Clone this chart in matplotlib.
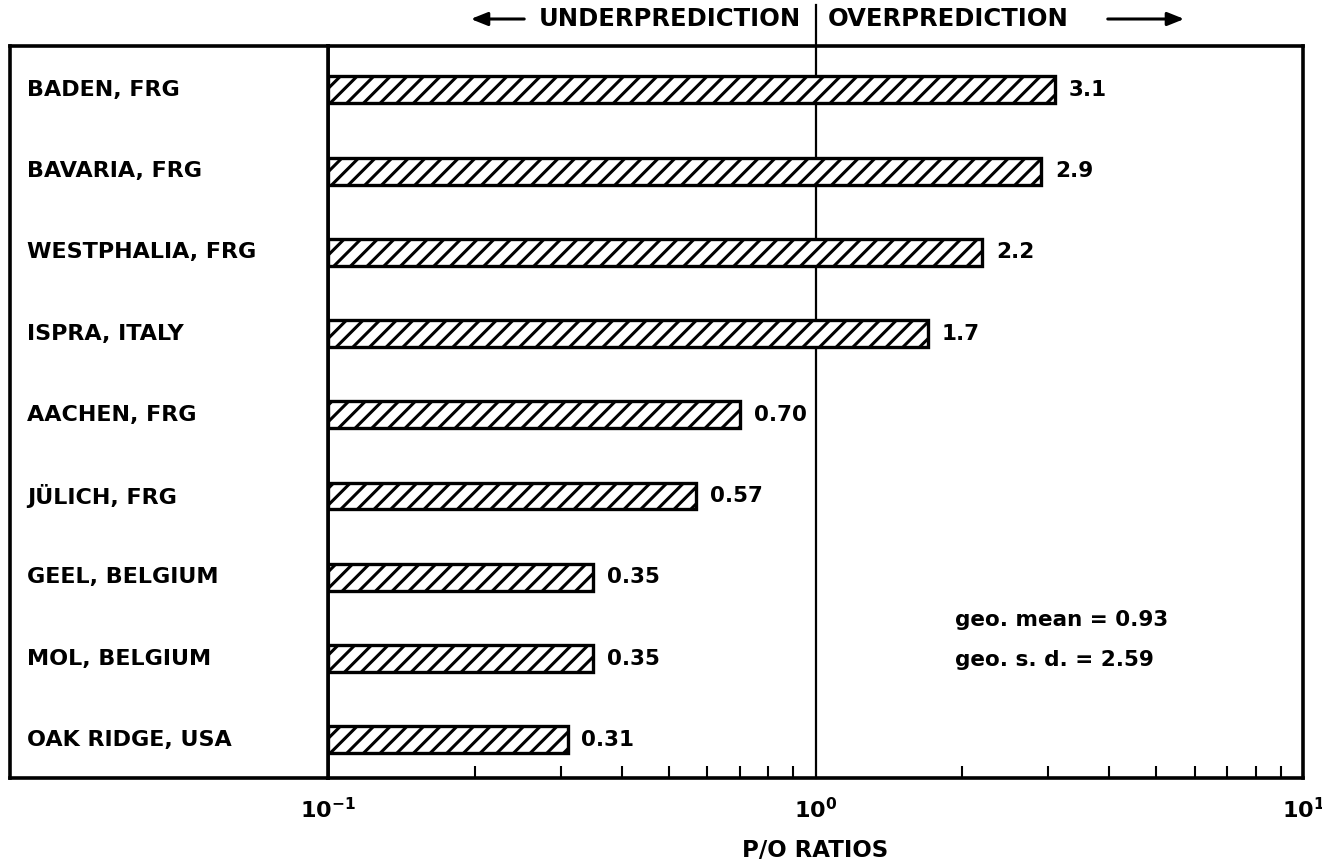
import matplotlib
matplotlib.use("Agg")
import matplotlib.pyplot as plt
import matplotlib.transforms as mtransforms
from matplotlib.ticker import LogLocator, NullFormatter, FixedLocator, FixedFormatter
import numpy as np

sites = ["BADEN, FRG", "BAVARIA, FRG", "WESTPHALIA, FRG", "ISPRA, ITALY",
         "AACHEN, FRG", "JÜLICH, FRG", "GEEL, BELGIUM", "MOL, BELGIUM",
         "OAK RIDGE, USA"]
ratios = [3.1, 2.9, 2.2, 1.7, 0.70, 0.57, 0.35, 0.35, 0.31]
ratio_labels = ["3.1", "2.9", "2.2", "1.7", "0.70", "0.57", "0.35", "0.35", "0.31"]
major_ticks = [0.1, 1.0, 10.0]
major_tick_labels = [r"$\mathbf{10^{-1}}$", r"$\mathbf{10^{0}}$", r"$\mathbf{10^{1}}$"]
stats_text = ["geo. mean = 0.93", "geo. s. d. = 2.59"]

plt.rcParams['font.family'] = ['DejaVu Sans']
plt.rcParams['hatch.linewidth'] = 2.2
plt.rcParams['mathtext.fontset'] = 'dejavusans'

W, H = 1322, 867
fig = plt.figure(figsize=(W / 100, H / 100), dpi=100)

def fx(px):
    return px / W

def fy(py):
    return 1 - py / H

ax_left, ax_right = 328, 1303
ax_top, ax_bot = 46, 778
ax = fig.add_axes([fx(ax_left), fy(ax_bot), fx(ax_right - ax_left), fy(ax_top) - fy(ax_bot)])
axl = fig.add_axes([fx(10), fy(ax_bot), fx(ax_left - 10), fy(ax_top) - fy(ax_bot)], sharey=ax)

y = np.arange(len(sites))
ax.set_xscale('log')
ax.set_xlim(0.1, 10)
ax.set_ylim(len(sites) - 1 + 0.47, -0.54)

ax.barh(y, [r - 0.1 for r in ratios], left=0.1, height=0.33, color='white',
        edgecolor='black', linewidth=2.4, hatch='//', zorder=3)

for yi, r, lab in zip(y, ratios, ratio_labels):
    ax.annotate(lab, xy=(r, yi), xytext=(10, 0), textcoords='offset points',
                ha='left', va='center', fontsize=15.5, fontweight='bold', zorder=4)

# vertical reference line at 1.0 extending above the frame
trans = mtransforms.blended_transform_factory(ax.transData, ax.transAxes)
ax.plot([1.0, 1.0], [0, (fy(5) - fy(ax_bot)) / (fy(ax_top) - fy(ax_bot))],
        color='black', lw=1.6, transform=trans, clip_on=False, zorder=2)

for s in ax.spines.values():
    s.set_linewidth(2.6)
for s in axl.spines.values():
    s.set_linewidth(2.6)

ax.xaxis.set_major_locator(FixedLocator(major_ticks))
ax.xaxis.set_major_formatter(FixedFormatter(major_tick_labels))
ax.xaxis.set_minor_locator(LogLocator(base=10, subs=np.arange(2, 10)))
ax.xaxis.set_minor_formatter(NullFormatter())
ax.tick_params(axis='x', which='major', length=0, pad=14, labelsize=16)
ax.tick_params(axis='x', which='minor', direction='in', length=9, width=1.5)
ax.tick_params(axis='y', left=False, labelleft=False)
axl.tick_params(axis='both', left=False, bottom=False, labelleft=False, labelbottom=False)
axl.set_xticks([])

ax.set_xlabel("P/O RATIOS", fontsize=16.5, fontweight='bold', labelpad=12)

ltrans = mtransforms.blended_transform_factory(axl.transAxes, axl.transData)
for yi, s in zip(y, sites):
    axl.text(0.053, yi, s, transform=ltrans, ha='left', va='center',
             fontsize=16, fontweight='bold')

ax.text(fx(955), fy(620), stats_text[0], transform=fig.transFigure, ha='left',
        va='center', fontsize=15.5, fontweight='bold')
ax.text(fx(955), fy(660), stats_text[1], transform=fig.transFigure, ha='left',
        va='center', fontsize=15.5, fontweight='bold')

# header
fig.text(fx(801), fy(19), "UNDERPREDICTION", ha='right', va='center',
         fontsize=17.5, fontweight='bold')
fig.text(fx(828), fy(19), "OVERPREDICTION", ha='left', va='center',
         fontsize=17.5, fontweight='bold')
fig.add_artist(matplotlib.patches.FancyArrowPatch(
    (fx(527), fy(19)), (fx(468), fy(19)), transform=fig.transFigure,
    arrowstyle='-|>,head_length=10,head_width=4', lw=2.2, color='black',
    mutation_scale=1))
fig.add_artist(matplotlib.patches.FancyArrowPatch(
    (fx(1105), fy(19)), (fx(1187), fy(19)), transform=fig.transFigure,
    arrowstyle='-|>,head_length=10,head_width=4', lw=2.2, color='black',
    mutation_scale=1))

fig.savefig("out.png", dpi=100)
